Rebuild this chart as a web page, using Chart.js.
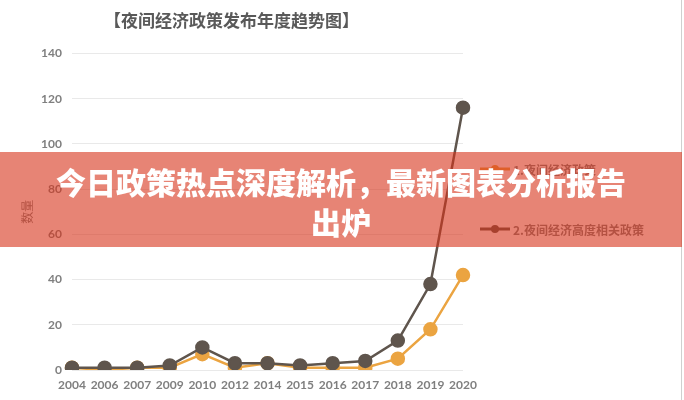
<!DOCTYPE html>
<html>
<head>
<meta charset="utf-8">
<script src="https://cdn.jsdelivr.net/npm/chart.js@4.4.1/dist/chart.umd.min.js"></script>
<style>
html,body{margin:0;padding:0;background:#fff;}
#wrap{position:relative;width:684px;height:400px;overflow:hidden;}
#edge{position:absolute;left:681px;top:0;width:1px;height:400px;background:#d0d0d0;}
#banner{position:absolute;left:0;top:152px;width:682px;height:95px;background:rgba(215,50,25,0.6);
  color:#fff;font-family:"Noto Sans CJK SC","Noto Sans",sans-serif;font-weight:900;font-size:30px;line-height:40px;
  text-align:center;display:flex;flex-direction:column;align-items:center;justify-content:center;padding-top:3px;box-sizing:border-box;}
</style>
</head>
<body>
<div id="wrap">
  <canvas id="c" width="684" height="400"></canvas>
  <div id="edge"></div>
  <div id="banner"><div>今日政策热点深度解析，最新图表分析报告</div><div>出炉</div></div>
</div>
<script>
const years = ['2004','2006','2007','2009','2010','2012','2014','2015','2016','2017','2018','2019','2020'];
const policyAll = [1,0,1,1,7,1,3,1,1,1,5,18,42];
const policyRelated = [1,1,1,2,10,3,3,2,3,4,13,38,116];
const seriesNames = ['1.夜间经济政策','2.夜间经济高度相关政策'];
const yMin = 0, yMax = 140, yStep = 20;
const chartTitle = '【夜间经济政策发布年度趋势图】';
const axisTitle = '数量';

const ORANGE = '#eba441';
const DARK = '#5f554d';
const CJK = '"Noto Sans CJK SC", "Noto Sans", sans-serif';
const NUM = 'Lato, "Noto Sans", sans-serif';

const legendPlugin = {
  id: 'sideLegend',
  afterDraw(chart) {
    const ctx = chart.ctx;
    const items = [
      {text: seriesNames[0], color: ORANGE, y: 169},
      {text: seriesNames[1], color: DARK, y: 229}
    ];
    ctx.save();
    items.forEach(it => {
      ctx.strokeStyle = it.color;
      ctx.lineWidth = 3;
      ctx.beginPath();
      ctx.moveTo(480, it.y);
      ctx.lineTo(510, it.y);
      ctx.stroke();
      ctx.fillStyle = it.color;
      ctx.beginPath();
      ctx.arc(495, it.y, 4, 0, Math.PI * 2);
      ctx.fill();
      ctx.fillStyle = '#7f7f7f';
      ctx.font = 'bold 12px ' + CJK;
      ctx.textAlign = 'left';
      ctx.textBaseline = 'middle';
      ctx.fillText(it.text, 513, it.y + 1);
    });
    ctx.restore();
  }
};

new Chart(document.getElementById('c'), {
  type: 'line',
  data: {
    labels: years,
    datasets: [
      {
        label: seriesNames[1], data: policyRelated,
        borderColor: DARK, backgroundColor: DARK,
        borderWidth: 2.5, pointRadius: 6, pointHoverRadius: 6,
        pointBackgroundColor: DARK, pointBorderColor: DARK, tension: 0
      },
      {
        label: seriesNames[0], data: policyAll,
        borderColor: ORANGE, backgroundColor: ORANGE,
        borderWidth: 2.5, pointRadius: 6, pointHoverRadius: 6,
        pointBackgroundColor: ORANGE, pointBorderColor: ORANGE, tension: 0
      }
    ]
  },
  options: {
    responsive: false,
    animation: false,
    devicePixelRatio: 1,
    layout: {padding: {left: 0, right: 221, top: 0, bottom: 0}},
    plugins: {
      legend: {display: false},
      tooltip: {enabled: false},
      title: {
        display: true, text: chartTitle, color: '#595959',
        font: {family: CJK, size: 17, weight: 'bold'},
        padding: {top: 10, bottom: 23}
      }
    },
    scales: {
      x: {
        type: 'category', offset: false,
        grid: {display: false, drawTicks: false},
        border: {display: false},
        ticks: {color: '#7f7f7f', font: {family: NUM, size: 12, weight: 'bold'}, padding: 8, maxRotation: 0, autoSkip: false},
        afterFit(s) { s.height = 30; }
      },
      y: {
        min: yMin, max: yMax,
        grid: {color: '#e9e9e9', drawTicks: false, lineWidth: 1},
        border: {display: false},
        ticks: {stepSize: yStep, color: '#7f7f7f', font: {family: NUM, size: 12, weight: 'bold'}, padding: 10},
        title: {display: true, text: axisTitle, color: '#7f7f7f', font: {family: CJK, size: 12}, padding: {top: 20, bottom: 0}},
        afterFit(s) { s.width = 72; }
      }
    }
  },
  plugins: [legendPlugin]
});
</script>
</body>
</html>
